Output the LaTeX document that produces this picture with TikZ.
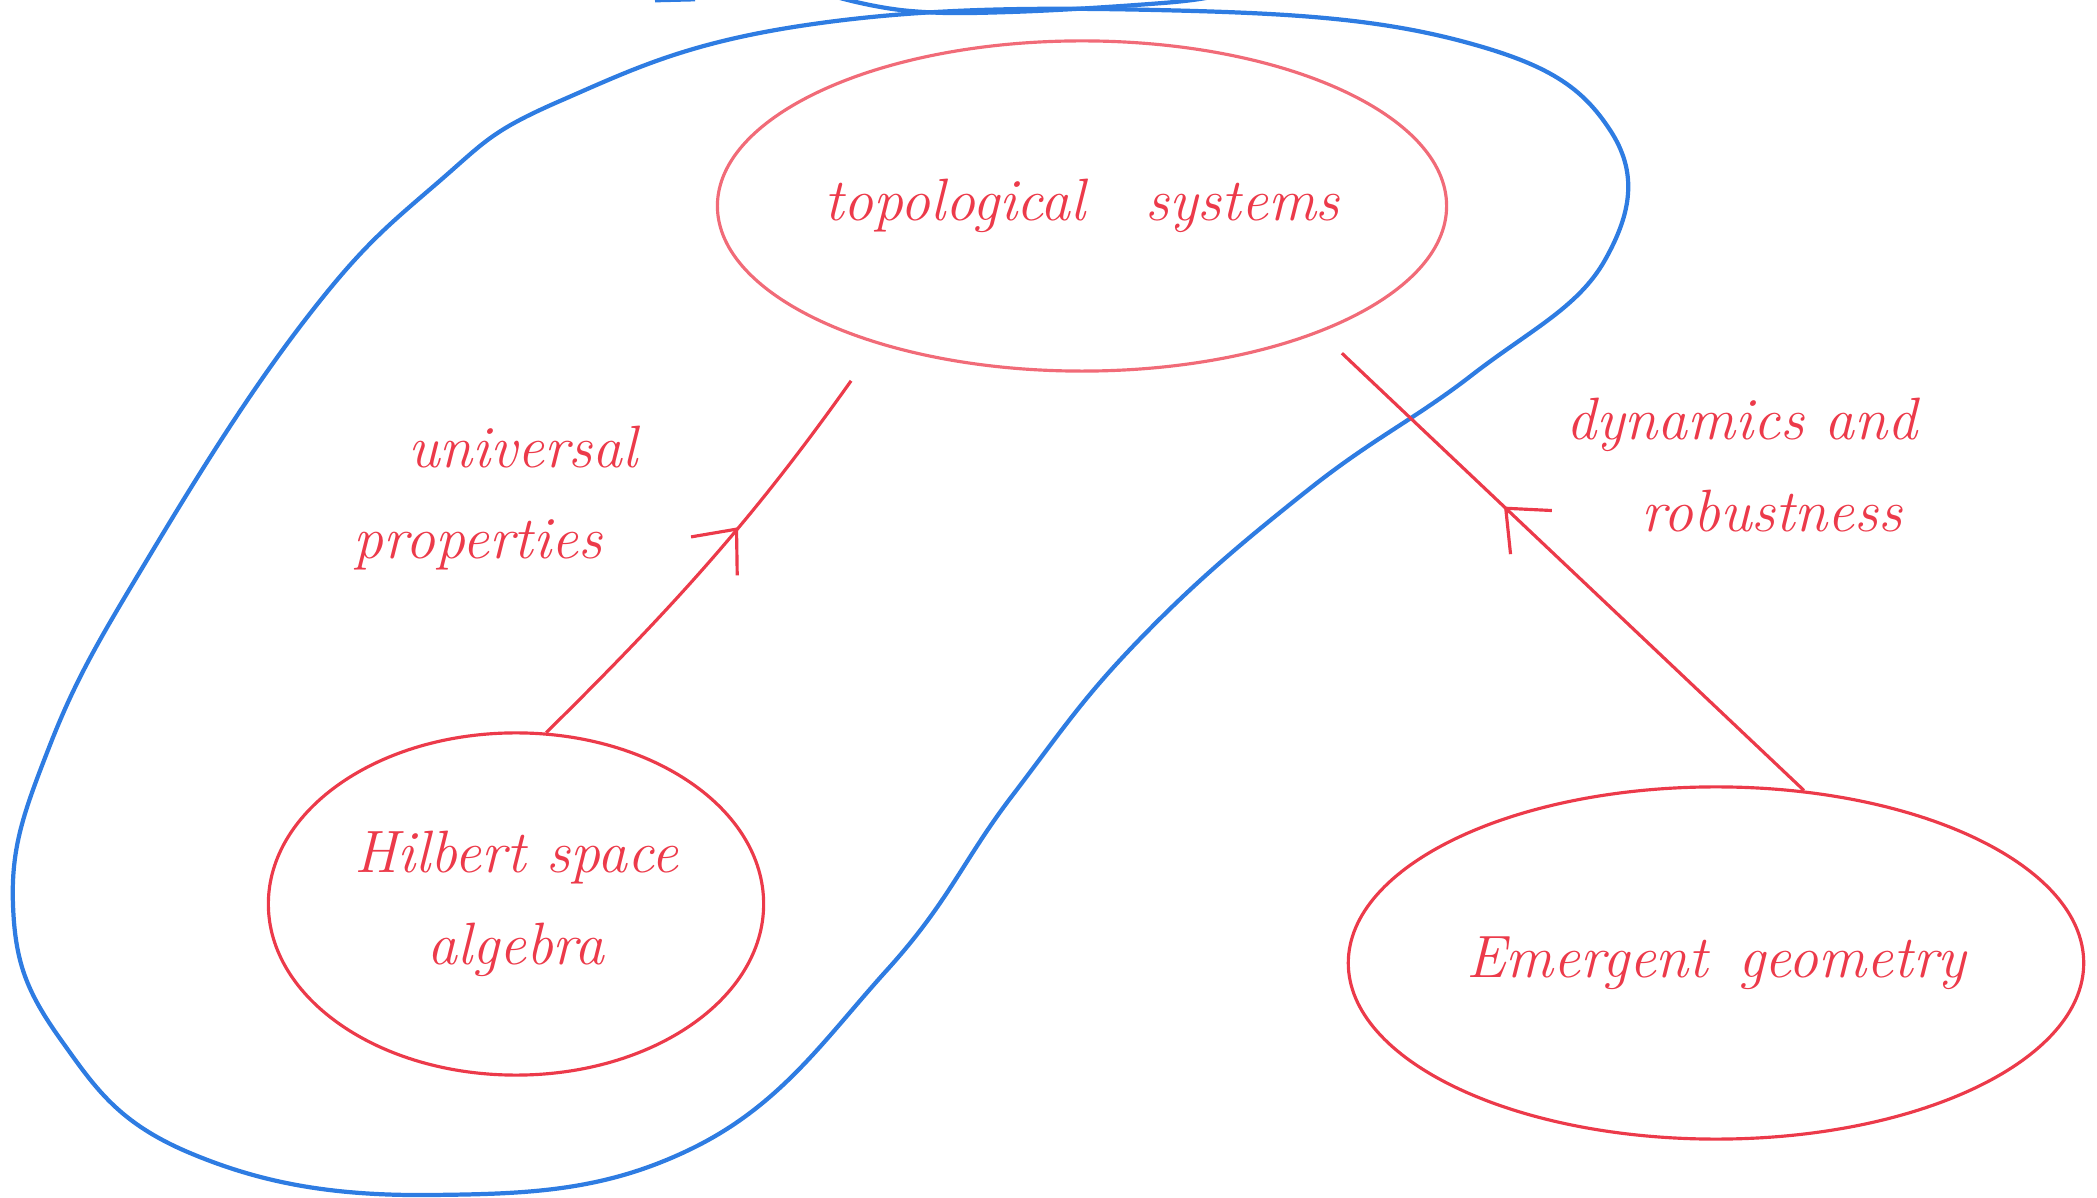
\documentclass[tikz,border=0pt]{standalone}
\usepackage{tikz}
\usetikzlibrary{shapes.geometric,arrows.meta,decorations.markings,positioning}

\definecolor{redpen}{RGB}{236,58,74}
\definecolor{pinkpen}{RGB}{244,140,150}
\definecolor{bluepen}{RGB}{46,124,226}

\begin{document}
\begin{tikzpicture}[
    x=0.01cm, y=-0.01cm,
    font=\fontsize{17}{26}\selectfont\itshape,
    blob/.style={ellipse, draw=redpen, line width=0.9pt, text=redpen, align=center, inner sep=0pt},
    note/.style={text=redpen, align=center},
    link/.style={draw=redpen, line width=0.9pt, postaction={decorate},
      decoration={markings, mark=at position #1 with {\arrow{Straight Barb[length=3.5mm, width=6mm]}}}},
    loop/.style={draw=bluepen, line width=1.2pt}
  ]
    \useasboundingbox (0,0) rectangle (2097,1198);
    \clip (0,0) rectangle (2097,1198);

    % blue boundary round the two upper regions
    \draw[loop] plot[smooth cycle, tension=0.7] coordinates {
      (560,101) (800,26) (1155,10) (1461,41) (1610,130) (1605,260)
      (1472,375) (1308,490) (1139,640) (1012,796) (887,970) (693,1148)
      (430,1195) (190,1153) (61,1040) (13,905) (50,745) (150,555)
      (305,320) (435,185)};
    \draw[loop] plot[smooth, tension=0.7] coordinates {(840,-2) (910,11) (1010,12) (1163,3) (1215,-4)};
    \draw[loop, line width=0.8pt] (655,1) -- (695,0);

    \node[blob, draw=pinkpen!60!redpen, minimum width=7.1cm, minimum height=3.3cm] (topo) at (1082,206) {topological\quad systems};
    \node[blob, minimum width=4.95cm, minimum height=3.42cm] (hilb) at (516,904) {Hilbert space\\algebra};
    \node[blob, minimum width=7.35cm, minimum height=3.52cm] (emer) at (1716,963) {Emergent\enspace geometry};

    \node[note] (univ) at (478,498) {\hspace*{1.5em}universal\\properties};
    \node[note] (dyna) at (1742,465) {dynamics and\\\hspace*{1em}robustness};

    \draw[link=0.55, shorten >=0.45cm] (hilb.80) to[bend right=5] (topo.214);
    \draw[link=0.62, shorten >=0.3cm] (emer.63) -- (topo.332);
\end{tikzpicture}
\end{document}
